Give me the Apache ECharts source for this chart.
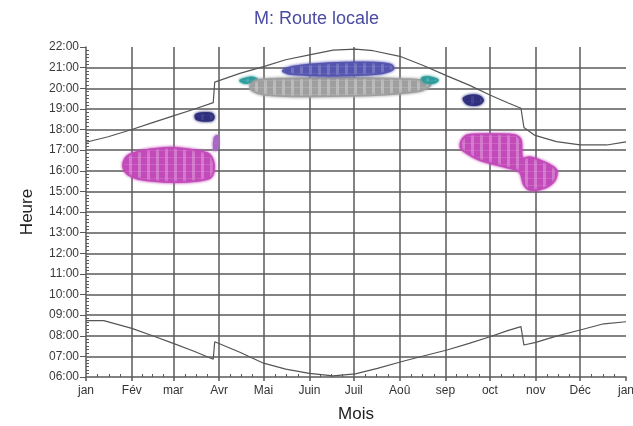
<!DOCTYPE html>
<html>
<head>
<meta charset="utf-8">
<title>M: Route locale</title>
<script src="https://cdn.jsdelivr.net/npm/echarts@6/dist/echarts.min.js"></script>
<style>
    html, body { margin: 0; padding: 0; background: #fff; }
    #chart { width: 633px; height: 426px; }
</style>
</head>
<body>
<div id="chart"></div>
<script>
// month boundaries, in day of year
var monthNames = ['jan', 'Fév', 'mar', 'Avr', 'Mai', 'Juin', 'Juil', 'Aoû', 'sep', 'oct', 'nov', 'Déc', 'jan'];
var monthStarts = [0, 31, 59, 90, 120, 151, 181, 212, 243, 273, 304, 334, 365];

// sunset (upper curve), hours
var sunsetDays = [0, 15, 31, 45, 59, 73, 86, 87, 104, 120, 135, 151, 167, 182, 194, 213, 228, 244, 259, 273, 285, 294, 296, 303, 318, 334, 352, 365];
var sunsetHours = [17.38, 17.65, 18.0, 18.33, 18.66, 18.98, 19.3, 20.3, 20.72, 21.05, 21.38, 21.62, 21.85, 21.9, 21.82, 21.53, 21.1, 20.6, 20.15, 19.67, 19.3, 19.03, 18.1, 17.73, 17.41, 17.25, 17.25, 17.4];

// sunrise (lower curve)
var sunriseDays = [0, 12, 31, 45, 59, 73, 86, 87, 104, 120, 135, 151, 167, 182, 197, 213, 228, 244, 259, 273, 285, 294, 296, 304, 318, 334, 350, 365];
var sunriseHours = [8.73, 8.73, 8.36, 8.0, 7.63, 7.25, 6.86, 7.71, 7.2, 6.67, 6.38, 6.18, 6.05, 6.15, 6.42, 6.74, 7.02, 7.31, 7.63, 7.95, 8.25, 8.44, 7.55, 7.68, 7.98, 8.28, 8.58, 8.68];

// observed zones, outlines as [day, hour]
var pinkWinter = [[25, 16.3], [28, 16.72], [36, 16.95], [48, 17.08], [60, 17.12], [72, 17.02], [82, 16.86], [86, 16.5], [86.5, 16.0], [84, 15.65], [75, 15.5], [60, 15.44], [45, 15.5], [33, 15.65], [27, 15.9]];
var pinkMarch = [[86.5, 17.0], [88.5, 17.05], [88.8, 17.7], [86.8, 17.6]];
var navyMarch = [[74, 18.7], [78, 18.8], [85, 18.78], [86.5, 18.6], [85, 18.44], [78, 18.43], [74.5, 18.5]];
var tealMay = [[104, 20.38], [108, 20.48], [112, 20.53], [116, 20.42], [113, 20.3], [107, 20.25]];
var grayNight = [[111, 20.15], [116, 20.4], [130, 20.47], [160, 20.5], [190, 20.5], [215, 20.45], [230, 20.35], [233, 20.15], [225, 19.85], [205, 19.7], [175, 19.62], [140, 19.6], [120, 19.68], [112, 19.9]];
var blueSummer = [[133, 20.85], [140, 21.05], [155, 21.18], [175, 21.25], [195, 21.25], [206, 21.15], [208, 20.95], [200, 20.72], [180, 20.62], [160, 20.6], [145, 20.65], [136, 20.72]];
var tealAug = [[227, 20.5], [232, 20.55], [238, 20.4], [235, 20.25], [229, 20.3]];
var navySep = [[255, 19.5], [259, 19.65], [266, 19.62], [268.5, 19.4], [265, 19.2], [258, 19.22]];
var pinkAutumn = [[254, 17.49], [258, 17.73], [273, 17.78], [290, 17.73], [294, 17.49], [295, 16.62], [300, 16.67], [310, 16.42], [318, 16.04], [317, 15.55], [310, 15.16], [300, 15.07], [296, 15.31], [293, 15.94], [283, 16.18], [266, 16.52], [256, 16.91], [253, 17.15]];

var zoneShapes = [pinkWinter, pinkMarch, navyMarch, tealMay, grayNight, blueSummer, tealAug, navySep, pinkAutumn];
var zoneColors = ['#c24ab9', '#a868c4', '#2f2f7e', '#2f9c9c', '#9f9f9f', '#5656b0', '#2f9c9c', '#2f2f7e', '#c24ab9'];
var zoneLights = ['#dc8fd6', '#c9a0d8', '#4a4a96', '#5cb8b8', '#c8c8c8', '#8484c8', '#5cb8b8', '#4a4a96', '#dc8fd6'];

function pairs(xs, ys) {
    return xs.map(function (x, i) { return [x, ys[i]]; });
}

// four minor ticks per month on x, ten minutes on y
var minorDays = [];
for (var m = 0; m < 12; m++) {
    var len = monthStarts[m + 1] - monthStarts[m];
    for (var k = 1; k < 4; k++) minorDays.push(monthStarts[m] + len * k / 4);
}
var minorHours = [];
for (var t = 6 * 6; t <= 22 * 6; t++) {
    if (t % 6) minorHours.push(t / 6);
}

function hourLabel(v) {
    var h = Math.round(v);
    return (h < 10 ? '0' + h : '' + h) + ':00';
}

// speckled fill like the scanned blobs
function makePattern(base, light) {
    var cv = document.createElement('canvas');
    cv.width = 9; cv.height = 7;
    var ctx = cv.getContext('2d');
    ctx.fillStyle = base;
    ctx.fillRect(0, 0, 9, 7);
    ctx.fillStyle = light;
    ctx.globalAlpha = 0.7;
    ctx.fillRect(3, 0, 3, 7);
    ctx.globalAlpha = 0.35;
    ctx.fillRect(0, 3, 9, 1);
    return cv;
}
var patterns = zoneColors.map(function (c, i) {
    return { image: makePattern(c, zoneLights[i]), repeat: 'repeat' };
});

function renderZone(params, api) {
    var i = params.dataIndex;
    var pts = zoneShapes[i].map(function (p) { return api.coord(p); });
    return {
        type: 'polygon',
        shape: { points: pts, smooth: 0.3 },
        style: { fill: patterns[i], stroke: zoneColors[i], lineWidth: 1.5, shadowBlur: 3, shadowColor: zoneColors[i] }
    };
}

var gridColor = '#5a5a5a';
var font = 'Liberation Sans, Arial, sans-serif';

var chart = echarts.init(document.getElementById('chart'));
chart.setOption({
    animation: false,
    backgroundColor: '#fff',
    textStyle: { fontFamily: font },
    title: {
        text: 'M: Route locale',
        left: 'center',
        top: 5,
        textStyle: { color: '#4b4ba3', fontSize: 18, fontWeight: 'normal', fontFamily: font }
    },
    grid: { left: 86, right: 7, top: 47, bottom: 49, outerBoundsMode: 'none', containLabel: false },
    xAxis: [{
        type: 'value', min: 0, max: 365,
        name: 'Mois', nameLocation: 'middle', nameGap: 29,
        nameTextStyle: { fontSize: 17, color: '#222', fontFamily: font },
        axisLine: { show: true, lineStyle: { color: gridColor, width: 1.5 } },
        axisTick: { show: true, customValues: monthStarts, length: 4, lineStyle: { color: gridColor, width: 1.5 } },
        axisLabel: {
            customValues: monthStarts, color: '#333', fontSize: 12, margin: 8, fontFamily: font,
            formatter: function (v) { return monthNames[monthStarts.indexOf(v)]; }
        },
        splitLine: { show: true, showMinLine: false, showMaxLine: false, lineStyle: { color: gridColor, width: 1.5 } }
    }, {
        type: 'value', min: 0, max: 365, position: 'bottom',
        axisLine: { show: false },
        axisTick: { show: true, inside: true, customValues: minorDays, length: 3, lineStyle: { color: gridColor, width: 1 } },
        axisLabel: { show: false },
        splitLine: { show: false }
    }],
    yAxis: [{
        type: 'value', min: 6, max: 22, interval: 1,
        name: 'Heure', nameLocation: 'middle', nameGap: 50, nameRotate: 90,
        nameTextStyle: { fontSize: 17, color: '#222', fontFamily: font },
        axisLine: { show: true, lineStyle: { color: gridColor, width: 1.5 } },
        axisTick: { show: true, length: 6, lineStyle: { color: gridColor, width: 1 } },
        axisLabel: { color: '#3a3a3a', fontSize: 12, margin: 7, fontFamily: font, formatter: hourLabel },
        splitLine: { show: true, showMinLine: false, showMaxLine: false, lineStyle: { color: gridColor, width: 1.5 } }
    }, {
        type: 'value', min: 6, max: 22, position: 'left',
        axisLine: { show: false },
        axisTick: { show: true, inside: true, customValues: minorHours, length: 3, lineStyle: { color: gridColor, width: 1 } },
        axisLabel: { show: false },
        splitLine: { show: false }
    }],
    series: [{
        type: 'custom',
        renderItem: renderZone,
        data: zoneShapes.map(function (s) { return [s[0][0], s[0][1]]; }),
        encode: { x: 0, y: 1 },
        z: 3
    }, {
        name: 'coucher',
        type: 'line',
        data: pairs(sunsetDays, sunsetHours),
        showSymbol: false, symbol: 'none',
        lineStyle: { color: '#555', width: 1.2 },
        z: 4
    }, {
        name: 'lever',
        type: 'line',
        data: pairs(sunriseDays, sunriseHours),
        showSymbol: false, symbol: 'none',
        lineStyle: { color: '#555', width: 1.2 },
        z: 4
    }]
});
</script>
</body>
</html>
